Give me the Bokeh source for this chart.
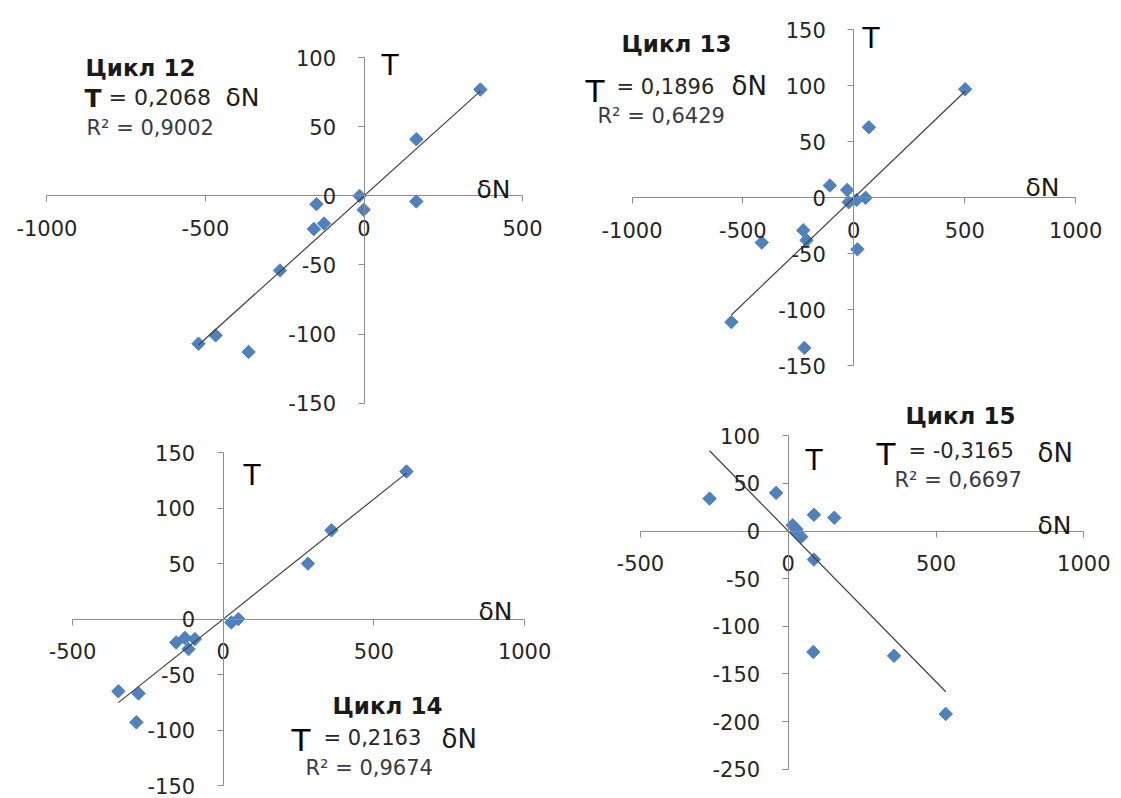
import numpy as np
from bokeh.plotting import figure
from bokeh.models import LinearAxis, FixedTicker, Label, Range1d
from bokeh.layouts import column, row
from bokeh.embed import file_html
from bokeh.resources import INLINE

# ---------------- data ----------------
c12_dN = [367, 165, 165, -14, -1, -150, -158, -126, -265, -468, -522, -364]
c12_T = [77, 41, -4, 0, -10, -6, -24, -20, -54, -101, -107, -113]
c12_slope = 0.2068

c13_dN = [502, 68, -108, -30, 53, -23, 12, -228, -213, -415, 16, -552, -223]
c13_T = [97, 63, 11, 7, 0, -4, -2, -29, -38, -40, -46, -111, -134]
c13_slope = 0.1896

c14_dN = [608, 359, 281, 50, 27, -127, -156, -94, -115, -348, -281, -288]
c14_T = [133, 80, 50, 0, -3, -17, -21, -18, -27, -65, -67, -93]
c14_slope = 0.2163

c15_dN = [-266, -41, 87, 156, 15, 27, 44, 29, 87, 85, 358, 533]
c15_T = [34, 40, 17, 14, 6, 2, -6, -1, -30, -127, -131, -192]
c15_slope = -0.3165

c12_xticks = [-1000, -500, 0, 500]
c12_yticks = [-150, -100, -50, 0, 50, 100]
c13_xticks = [-1000, -500, 0, 500, 1000]
c13_yticks = [-150, -100, -50, 0, 50, 100, 150]
c14_xticks = [-500, 0, 500, 1000]
c14_yticks = [-150, -100, -50, 0, 50, 100, 150]
c15_xticks = [-500, 0, 500, 1000]
c15_yticks = [-250, -200, -150, -100, -50, 0, 50, 100]

titles = ["Цикл 12", "Цикл 13", "Цикл 14", "Цикл 15"]
eq_nums = ["= 0,2068", "= 0,1896", "= 0,2163", "= -0,3165"]
r2_texts = ["R² = 0,9002", "R² = 0,6429", "R² = 0,9674", "R² = 0,6697"]

FONT = "DejaVu Sans"
AXC = "#8c8c8c"
TXT = "#262626"
DARK = "#1a1a1a"
R2C = "#3a3a4a"
MARK = "#4F81BD"


def make_panel(box, origin, scale, dN, T, slope, xticks, yticks, texts):
    left, top, w, h = box
    ox, oy = origin
    kx, ky = scale

    def X(px):
        return (px - ox) / kx

    def Y(py):
        return (oy - py) / ky

    p = figure(width=w, height=h,
               x_range=Range1d(X(left), X(left + w)),
               y_range=Range1d(Y(top + h), Y(top)),
               output_backend="svg", toolbar_location=None,
               x_axis_location=None, y_axis_location=None,
               min_border=0, outline_line_color=None,
               background_fill_color="white", border_fill_color="white")
    p.xgrid.visible = False
    p.ygrid.visible = False

    common = dict(fixed_location=0, axis_line_color=AXC, axis_line_width=1,
                  major_tick_line_color=AXC, major_tick_out=6, major_tick_in=0,
                  minor_tick_line_color=None,
                  major_label_text_font=FONT, major_label_text_font_size="21px",
                  major_label_text_color=TXT)
    xa = LinearAxis(ticker=FixedTicker(ticks=xticks), bounds=(xticks[0], xticks[-1]),
                    major_label_standoff=18,
                    major_label_overrides={t: str(t) for t in xticks}, **common)
    ya = LinearAxis(ticker=FixedTicker(ticks=yticks), bounds=(yticks[0], yticks[-1]),
                    major_label_standoff=22,
                    major_label_overrides={t: str(t) for t in yticks}, **common)
    p.add_layout(xa, "below")
    p.add_layout(ya, "left")

    p.scatter(dN, T, marker="square", angle=np.pi / 4, size=9.5,
              fill_color=MARK, line_color=MARK)
    xs = [min(dN), max(dN)]
    p.line(xs, [slope * v for v in xs], line_color="#404040", line_width=1.2)

    for (txt, px, py, size, style, color) in texts:
        p.add_layout(Label(x=X(px), y=Y(py), text=txt, text_font=FONT,
                           text_font_size=size, text_font_style=style,
                           text_color=color, text_align="left",
                           text_baseline="alphabetic"))
    return p


p1 = make_panel((0, 0, 564, 418), (363.5, 195.4), (0.3171, 1.381),
                c12_dN, c12_T, c12_slope, c12_xticks, c12_yticks,
                [(titles[0], 85, 67, "23px", "bold", DARK),
                 ("T", 84, 98, "25px", "bold", DARK),
                 (eq_nums[0], 108, 97, "22px", "normal", TXT),
                 ("δN", 225, 97, "25px", "normal", DARK),
                 (r2_texts[0], 86, 127, "21px", "normal", R2C),
                 ("T", 381, 65, "28px", "normal", "#000000"),
                 ("δN", 476, 189, "25px", "normal", DARK)])

p2 = make_panel((564, 0, 557, 390), (853.3, 197.3), (0.2218, 1.12),
                c13_dN, c13_T, c13_slope, c13_xticks, c13_yticks,
                [(titles[1], 621, 43, "23px", "bold", DARK),
                 ("T", 585, 90, "31px", "normal", "#000000"),
                 (eq_nums[1], 616, 86, "21px", "normal", TXT),
                 ("δN", 731, 85, "26px", "normal", DARK),
                 (r2_texts[1], 597, 115, "21px", "normal", R2C),
                 ("T", 862, 38, "28px", "normal", "#000000"),
                 ("δN", 1025, 187, "25px", "normal", DARK)])

p3 = make_panel((0, 418, 564, 380), (222.7, 618.6), (0.3014, 1.11),
                c14_dN, c14_T, c14_slope, c14_xticks, c14_yticks,
                [(titles[2], 332, 705, "23px", "bold", DARK),
                 ("T", 291, 739, "31px", "normal", "#000000"),
                 (eq_nums[2], 323, 737, "21px", "normal", TXT),
                 ("δN", 441, 738, "26px", "normal", DARK),
                 (r2_texts[2], 305, 767, "21px", "normal", R2C),
                 ("T", 243, 475, "28px", "normal", "#000000"),
                 ("δN", 478, 611, "25px", "normal", DARK)])

p4 = make_panel((564, 390, 557, 408), (787.7, 530.5), (0.2956, 0.953),
                c15_dN, c15_T, c15_slope, c15_xticks, c15_yticks,
                [(titles[3], 905, 415, "23px", "bold", DARK),
                 ("T", 876, 453, "31px", "normal", "#000000"),
                 (eq_nums[3], 908, 450, "21px", "normal", TXT),
                 ("δN", 1037, 452, "26px", "normal", DARK),
                 (r2_texts[3], 894, 479, "21px", "normal", R2C),
                 ("T", 805, 460, "28px", "normal", "#000000"),
                 ("δN", 1037, 525, "25px", "normal", DARK)])

layout = row(column(p1, p3, spacing=0), column(p2, p4, spacing=0), spacing=0)
open("out.html", "w").write(file_html(layout, INLINE))
